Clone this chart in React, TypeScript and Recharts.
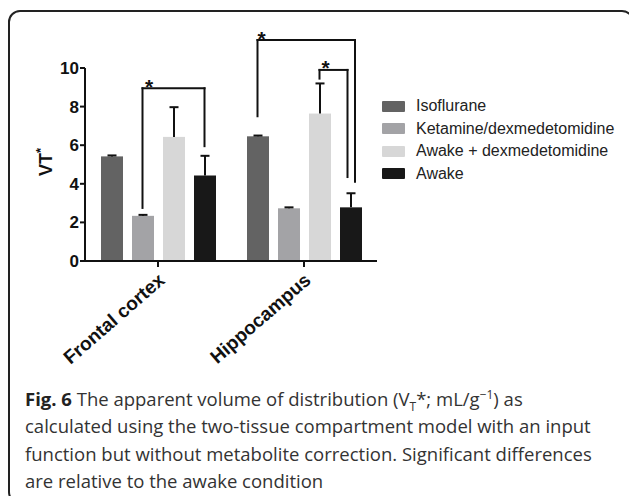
import React from "react";
import { BarChart, Bar, XAxis, YAxis, ReferenceLine, ReferenceDot } from "recharts";

// regions on the x axis
const regions = ["Frontal cortex", "Hippocampus"];

// VT* means and (upper) SEM per condition
const isoflurane = [5.42, 6.46];
const isofluraneErr = [0.05, 0.04];
const ketamine = [2.34, 2.73];
const ketamineErr = [0.05, 0.05];
const awakeDex = [6.43, 7.64];
const awakeDexErr = [1.54, 1.56];
const awake = [4.43, 2.78];
const awakeErr = [1.02, 0.73];

const yTicks = [0, 2, 4, 6, 8, 10];

const seriesNames = ["Isoflurane", "Ketamine/dexmedetomidine", "Awake + dexmedetomidine", "Awake"];
const seriesKeys = ["iso", "ket", "awakeDex", "awake"];

// significance brackets: region index, bar indices, leg heights (VT* units)
const bracketGroup = [0, 1, 1];
const bracketFrom = [1, 0, 2];
const bracketTo = [3, 3, 3];
const bracketLeft = [2.75, 7.5, 9.45];
const bracketTop = [8.95, 11.45, 9.9];
const bracketRight = [5.95, 4.1, 4.35];

const colors = ["#636363", "#a3a3a6", "#d7d7d7", "#181818"];
const INK = "#111";
const ARIAL = "'Liberation Sans', Arial, Helvetica, sans-serif";

const W = 629;
const H = 380;
const PLOT_LEFT = 85;
const PLOT_W = 292;
const BAND = PLOT_W / regions.length;
const BAR = 22;
const GAP = 9;
const CAP = 9;

// px nudges of the bracket legs / stars, as GraphPad drew them
const rightNudge = [0, 4.5, -3];
const starNudge = [6.5, 4, 6];

const data = regions.map((region, i) => ({
  region,
  pos: i + 0.5,
  iso: isoflurane[i],
  isoErr: isofluraneErr[i],
  ket: ketamine[i],
  ketErr: ketamineErr[i],
  awakeDex: awakeDex[i],
  awakeDexErr: awakeDexErr[i],
  awake: awake[i],
  awakeErr: awakeErr[i],
}));

// position of bar idx inside region group on the hidden numeric axis (0..n)
function barX(group: number, idx: number, nudge = 0) {
  return group + 0.5 + ((idx - 1.5) * (BAR + GAP) + nudge) / BAND;
}

function errorShape(valueKey: string, errKey: string) {
  return (p: any) => {
    const { x, y, width, height, fill, payload } = p;
    const v = payload[valueKey];
    const err = payload[errKey];
    const top = y - (err * height) / v;
    const cx = x + width / 2;
    return (
      <g>
        <rect x={x} y={y} width={width} height={height} fill={fill} />
        <line x1={cx} y1={y} x2={cx} y2={top} stroke={INK} strokeWidth={2} />
        <line x1={cx - CAP / 2} y1={top} x2={cx + CAP / 2} y2={top} stroke={INK} strokeWidth={2} />
      </g>
    );
  };
}

function RegionTick({ x, y, payload }: any) {
  const ax = x + 8;
  const ay = y + 13;
  return (
    <text
      x={ax}
      y={ay}
      transform={`rotate(-41 ${ax} ${ay})`}
      textAnchor="end"
      fontSize={19}
      fontWeight={700}
      fontFamily={ARIAL}
      fill={INK}
    >
      {payload.value}
    </text>
  );
}

function Star(p: any) {
  return (
    <text x={p.cx} y={p.cy + 5.5} textAnchor="middle" fontSize={21} fontWeight={700} fontFamily={ARIAL} fill={INK}>
      *
    </text>
  );
}

function YLabel() {
  return (
    <text
      x={51.5}
      y={162}
      transform="rotate(-90 51.5 162)"
      textAnchor="middle"
      fontSize={18}
      fontWeight={700}
      fontFamily={ARIAL}
      fill={INK}
    >
      VT<tspan dy={-7} fontSize={13}>*</tspan>
    </text>
  );
}

export default function App() {
  const lineProps = { stroke: INK, strokeWidth: 2, strokeLinecap: "square" as const, ifOverflow: "visible" as const, xAxisId: "b" };
  return (
    <div style={{ position: "absolute", left: 0, top: 0, width: W, height: 496, background: "#fff", overflow: "hidden" }}>
      <div
        style={{
          position: "absolute",
          left: 8,
          top: 10,
          width: 626,
          height: 494,
          border: "2px solid #222",
          borderRadius: 12,
          boxSizing: "border-box",
        }}
      />
      <div style={{ position: "absolute", left: 0, top: 0 }}>
        <BarChart width={W} height={H} data={data} margin={{ top: 68, right: W - PLOT_LEFT - PLOT_W, bottom: 0, left: 0 }} barSize={BAR} barGap={GAP}>
          <XAxis
            dataKey="region"
            interval={0}
            height={119}
            tickSize={6}
            tickMargin={2}
            tick={<RegionTick />}
            tickLine={{ stroke: INK, strokeWidth: 2 }}
            axisLine={{ stroke: INK, strokeWidth: 2 }}
          />
          <XAxis xAxisId="b" dataKey="pos" type="number" domain={[0, regions.length]} allowDataOverflow hide />
          <YAxis
            width={PLOT_LEFT}
            domain={[0, 10]}
            ticks={yTicks}
            interval={0}
            tickSize={5}
            tickMargin={1}
            tick={{ fill: INK, fontSize: 17, fontWeight: 700, fontFamily: ARIAL }}
            tickLine={{ stroke: INK, strokeWidth: 2 }}
            axisLine={{ stroke: INK, strokeWidth: 2 }}
            label={<YLabel />}
          />
          {seriesKeys.map((k, i) => (
            <Bar key={k} dataKey={k} name={seriesNames[i]} fill={colors[i]} isAnimationActive={false} shape={errorShape(k, k + "Err")} />
          ))}
          {bracketGroup.map((g, i) => {
            const xl = barX(g, bracketFrom[i]);
            const xr = barX(g, bracketTo[i], rightNudge[i]);
            return (
              <React.Fragment key={"br" + i}>
                <ReferenceLine {...lineProps} segment={[{ x: xl, y: bracketLeft[i] }, { x: xl, y: bracketTop[i] }]} />
                <ReferenceLine {...lineProps} segment={[{ x: xl, y: bracketTop[i] }, { x: xr, y: bracketTop[i] }]} />
                <ReferenceLine {...lineProps} segment={[{ x: xr, y: bracketTop[i] }, { x: xr, y: bracketRight[i] }]} />
                <ReferenceDot
                  xAxisId="b"
                  x={barX(g, bracketFrom[i], starNudge[i])}
                  y={bracketTop[i]}
                  r={0}
                  ifOverflow="visible"
                  shape={<Star />}
                />
              </React.Fragment>
            );
          })}
        </BarChart>
      </div>
      <div style={{ position: "absolute", left: 382, top: 95, fontFamily: ARIAL, fontSize: 16, color: "#222" }}>
        {seriesNames.map((n, i) => (
          <div key={n} style={{ display: "flex", alignItems: "center", height: 22.5 }}>
            <span style={{ display: "inline-block", width: 23, height: 11, background: colors[i], borderRadius: 1, marginRight: 11 }} />
            <span>{n}</span>
          </div>
        ))}
      </div>
      <div
        style={{
          position: "absolute",
          left: 25,
          top: 385,
          width: 600,
          fontFamily: "'Open Sans', sans-serif",
          fontSize: 18.5,
          lineHeight: "27.3px",
          color: "#333",
          whiteSpace: "nowrap",
        }}
      >
        <b style={{ color: "#222" }}>Fig. 6</b> The apparent volume of distribution (V
        <sub style={{ fontSize: 12, lineHeight: 0 }}>T</sub>*; mL/g<sup style={{ fontSize: 12, lineHeight: 0 }}>−1</sup>) as
        <br />
        calculated using the two-tissue compartment model with an input
        <br />
        function but without metabolite correction. Significant differences
        <br />
        are relative to the awake condition
      </div>
    </div>
  );
}
